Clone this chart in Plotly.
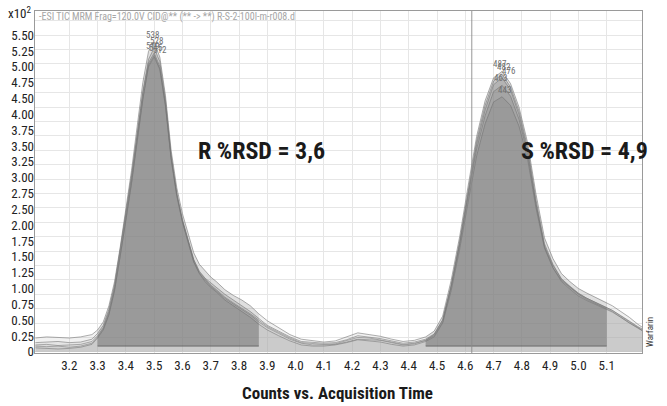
import plotly.graph_objects as go

# Acquisition time grid (min) shared by all replicate injections
TIME = [
    3.08, 3.12, 3.16, 3.20, 3.24, 3.28,
    3.30, 3.32, 3.34, 3.36, 3.38, 3.40, 3.42, 3.44, 3.46, 3.48,
    3.50, 3.52, 3.54, 3.56, 3.58, 3.60, 3.62, 3.64, 3.66, 3.68,
    3.70, 3.72, 3.75, 3.78, 3.81, 3.84, 3.87, 3.90, 3.94, 3.98,
    4.02, 4.06, 4.10, 4.14, 4.18, 4.22, 4.26, 4.30, 4.34, 4.38, 4.42,
    4.46, 4.49, 4.52, 4.55, 4.58, 4.61, 4.64, 4.67, 4.70, 4.73,
    4.76, 4.79, 4.82, 4.85, 4.88, 4.91, 4.94, 4.97, 5.00, 5.03,
    5.06, 5.10, 5.12, 5.15, 5.18, 5.21, 5.225,
]

# Counts (x10^2) for five replicate injections
REP_A = [
    0.24, 0.26, 0.25, 0.24, 0.26, 0.30,
    0.38, 0.52, 0.80, 1.22, 1.82, 2.48, 3.15, 3.92, 4.68, 5.22,
    5.38, 5.12, 4.45, 3.50, 2.85, 2.40, 2.05, 1.72, 1.52, 1.40,
    1.30, 1.22, 1.08, 0.98, 0.90, 0.80, 0.66, 0.54, 0.42, 0.30,
    0.22, 0.19, 0.17, 0.19, 0.26, 0.33, 0.30, 0.27, 0.22, 0.18, 0.20,
    0.26, 0.36, 0.62, 1.24, 2.00, 2.88, 3.74, 4.36, 4.76, 4.87,
    4.66, 4.25, 3.64, 2.74, 1.98, 1.62, 1.36, 1.22, 1.10, 1.02,
    0.95, 0.86, 0.80, 0.70, 0.60, 0.48, 0.43,
]
REP_B = [
    0.12, 0.13, 0.11, 0.12, 0.13, 0.18,
    0.28, 0.42, 0.70, 1.12, 1.72, 2.38, 3.02, 3.78, 4.52, 5.08,
    5.28, 5.04, 4.38, 3.42, 2.76, 2.30, 1.94, 1.60, 1.38, 1.26,
    1.16, 1.08, 0.95, 0.85, 0.76, 0.66, 0.55, 0.44, 0.34, 0.24,
    0.16, 0.14, 0.13, 0.14, 0.19, 0.25, 0.24, 0.21, 0.17, 0.13, 0.15,
    0.20, 0.30, 0.55, 1.16, 1.92, 2.80, 3.66, 4.28, 4.70, 4.82,
    4.60, 4.18, 3.56, 2.64, 1.88, 1.52, 1.27, 1.14, 1.02, 0.93,
    0.86, 0.77, 0.72, 0.63, 0.53, 0.44, 0.40,
]
REP_C = [
    0.10, 0.09, 0.10, 0.08, 0.10, 0.15,
    0.26, 0.40, 0.66, 1.08, 1.66, 2.30, 2.95, 3.68, 4.40, 4.95,
    5.12, 4.90, 4.26, 3.34, 2.70, 2.25, 1.90, 1.56, 1.36, 1.24,
    1.14, 1.06, 0.93, 0.83, 0.74, 0.64, 0.52, 0.42, 0.32, 0.22,
    0.15, 0.12, 0.12, 0.13, 0.17, 0.22, 0.21, 0.20, 0.16, 0.12, 0.14,
    0.20, 0.28, 0.52, 1.12, 1.88, 2.74, 3.60, 4.20, 4.64, 4.76,
    4.55, 4.12, 3.50, 2.58, 1.82, 1.46, 1.22, 1.09, 0.97, 0.89,
    0.82, 0.73, 0.69, 0.60, 0.50, 0.41, 0.37,
]
REP_D = [
    0.16, 0.17, 0.18, 0.16, 0.17, 0.22,
    0.32, 0.46, 0.74, 1.16, 1.76, 2.42, 3.06, 3.80, 4.50, 5.02,
    5.19, 4.96, 4.32, 3.38, 2.74, 2.28, 1.94, 1.60, 1.40, 1.28,
    1.20, 1.12, 1.00, 0.90, 0.80, 0.70, 0.58, 0.46, 0.36, 0.26,
    0.18, 0.16, 0.15, 0.16, 0.21, 0.28, 0.26, 0.23, 0.19, 0.15, 0.17,
    0.22, 0.31, 0.56, 1.14, 1.86, 2.70, 3.52, 4.10, 4.52, 4.63,
    4.44, 4.04, 3.44, 2.56, 1.84, 1.50, 1.26, 1.13, 1.01, 0.93,
    0.86, 0.77, 0.72, 0.62, 0.52, 0.42, 0.38,
]
REP_E = [
    0.07, 0.06, 0.05, 0.06, 0.08, 0.13,
    0.24, 0.38, 0.64, 1.06, 1.64, 2.28, 2.92, 3.66, 4.38, 4.98,
    5.15, 4.92, 4.28, 3.36, 2.72, 2.26, 1.90, 1.56, 1.36, 1.22,
    1.12, 1.04, 0.90, 0.80, 0.70, 0.60, 0.48, 0.38, 0.28, 0.19,
    0.12, 0.10, 0.10, 0.12, 0.16, 0.21, 0.19, 0.17, 0.13, 0.10, 0.12,
    0.18, 0.26, 0.50, 1.06, 1.78, 2.60, 3.40, 3.96, 4.34, 4.43,
    4.28, 3.92, 3.36, 2.50, 1.80, 1.46, 1.24, 1.12, 1.00, 0.91,
    0.84, 0.76, 0.70, 0.60, 0.50, 0.42, 0.37,
]
REPLICATES = [REP_A, REP_B, REP_C, REP_D, REP_E]

# Integration windows (min) and the integration baseline level (x10^2)
R_WINDOW = (3.30, 3.87)
S_WINDOW = (4.46, 5.10)
INT_BASELINE = 0.10
# Marker line drawn across the chromatogram (min)
CURSOR_TIME = 4.623

X_TICKS = [3.2, 3.3, 3.4, 3.5, 3.6, 3.7, 3.8, 3.9, 4.0, 4.1, 4.2,
           4.3, 4.4, 4.5, 4.6, 4.7, 4.8, 4.9, 5.0, 5.1]
Y_LABELS = ["0", "0.25", "0.50", "0.75", "1.00", "1.25", "1.50", "1.75",
            "2.00", "2.50", "2.75", "3.00", "3.25", "3.50", "3.75", "4.00",
            "4.50", "4.75", "5.00", "5.25", "5.50"]

X_RANGE = [3.0787, 5.2248]
Y_RANGE = [-0.02, 5.92]

FONT = "Roboto Condensed, Liberation Sans Narrow, Arial Narrow, sans-serif"

# plot-area geometry in pixels (for placing free text)
W, H = 667, 406
L, R, T, B = 35, 642, 11, 353


def px(x):
    return (x - L) / (R - L)


def py(y):
    return (B - y) / (B - T)


fig = go.Figure()

# replicate chromatograms, each lightly filled down to zero
for rep in REPLICATES:
    fig.add_trace(go.Scatter(
        x=TIME, y=rep, mode="lines",
        line=dict(color="rgba(120,120,120,0.75)", width=0.8),
        fill="tozeroy", fillcolor="rgba(165,165,165,0.16)",
        hoverinfo="skip", showlegend=False,
    ))

# integrated peak areas between the baseline and each chromatogram
for rep in REPLICATES:
    for lo, hi in (R_WINDOW, S_WINDOW):
        xs = [t for t in TIME if lo - 1e-9 <= t <= hi + 1e-9]
        ys = [v for t, v in zip(TIME, rep) if lo - 1e-9 <= t <= hi + 1e-9]
        fig.add_trace(go.Scatter(
            x=xs + xs[::-1] + [xs[0]],
            y=ys + [INT_BASELINE] * len(xs) + [ys[0]],
            mode="lines", line=dict(width=0),
            fill="toself", fillcolor="rgba(110,110,110,0.14)",
            hoverinfo="skip", showlegend=False,
        ))

# integration baselines
for lo, hi in (R_WINDOW, S_WINDOW):
    fig.add_trace(go.Scatter(
        x=[lo, hi], y=[INT_BASELINE, INT_BASELINE], mode="lines",
        line=dict(color="rgba(90,90,90,0.8)", width=1),
        hoverinfo="skip", showlegend=False,
    ))

# apex height labels for every replicate
annotations = []
for lo, hi in (R_WINDOW, S_WINDOW):
    for k, rep in enumerate(REPLICATES):
        pairs = [(v, t) for t, v in zip(TIME, rep) if lo <= t <= hi]
        vmax, tmax = max(pairs)
        annotations.append(dict(
            x=tmax, y=vmax, xref="x", yref="y",
            text=f"{vmax * 100:.0f}", showarrow=False,
            xanchor="center", yanchor="bottom", xshift=(k % 3) * 4 - 2,
            font=dict(family=FONT, size=9, color="#707070"),
        ))

# dummy trace so the label axis is drawn
fig.add_trace(go.Scatter(x=[X_RANGE[0]], y=[0], yaxis="y2", mode="markers",
                         marker=dict(opacity=0), hoverinfo="skip",
                         showlegend=False))

fig.add_shape(type="line", x0=CURSOR_TIME, x1=CURSOR_TIME, y0=0, y1=1,
              xref="x", yref="paper",
              line=dict(color="rgba(140,140,140,0.9)", width=1))

annotations += [
    dict(x=px(20), y=py(13), text="x10<sup>2</sup>", xanchor="center",
         yanchor="middle", font=dict(family=FONT, size=13, color="#222")),
    dict(x=px(37), y=py(17),
         text="-ESI TIC MRM Frag=120.0V CID@** (** -> **) R-S-2-100l-m-r008.d",
         xanchor="left", yanchor="middle",
         font=dict(family=FONT, size=10, color="#a6a6a6")),
    dict(x=px(196), y=py(151), text="<b>R %RSD = 3,6</b>", xanchor="left",
         yanchor="middle", font=dict(family=FONT, size=24, color="#1a1a1a")),
    dict(x=px(519), y=py(151), text="<b>S %RSD = 4,9</b>", xanchor="left",
         yanchor="middle", font=dict(family=FONT, size=24, color="#1a1a1a")),
    dict(x=px(337), y=py(393), text="<b>Counts vs. Acquisition Time</b>",
         xanchor="center", yanchor="middle",
         font=dict(family=FONT, size=17, color="#1a1a1a")),
    dict(x=px(650), y=py(332), text="Warfarin", textangle=-90,
         xanchor="center", yanchor="middle",
         font=dict(family=FONT, size=9, color="#333")),
]
for a in annotations[-6:]:
    a.update(xref="paper", yref="paper", showarrow=False)

fig.update_layout(
    width=W, height=H,
    margin=dict(l=L, r=W - R, t=T, b=H - B, pad=0),
    paper_bgcolor="white", plot_bgcolor="white",
    font=dict(family=FONT, color="#222"),
    xaxis=dict(
        range=X_RANGE, tickmode="array", tickvals=X_TICKS,
        ticktext=[f"{v:.1f}" for v in X_TICKS],
        showgrid=True, gridcolor="#e6e6e6", gridwidth=1,
        zeroline=False, showline=True, mirror=True,
        linecolor="#9a9a9a", linewidth=1, ticks="",
        tickfont=dict(family=FONT, size=13, color="#222"),
    ),
    yaxis=dict(
        range=Y_RANGE, tickmode="linear", tick0=0, dtick=0.25,
        showticklabels=False, showgrid=True, gridcolor="#e6e6e6",
        zeroline=False, showline=True, mirror=True,
        linecolor="#9a9a9a", linewidth=1, ticks="",
    ),
    yaxis2=dict(
        range=Y_RANGE, overlaying="y", side="left", anchor="x",
        tickmode="array",
        tickvals=[i * 5.5 / 20 for i in range(len(Y_LABELS))],
        ticktext=Y_LABELS, showgrid=False, zeroline=False,
        showline=False, ticks="",
        tickfont=dict(family=FONT, size=13, color="#222"),
    ),
    annotations=annotations,
    showlegend=False,
)

fig.write_html("out.html")
